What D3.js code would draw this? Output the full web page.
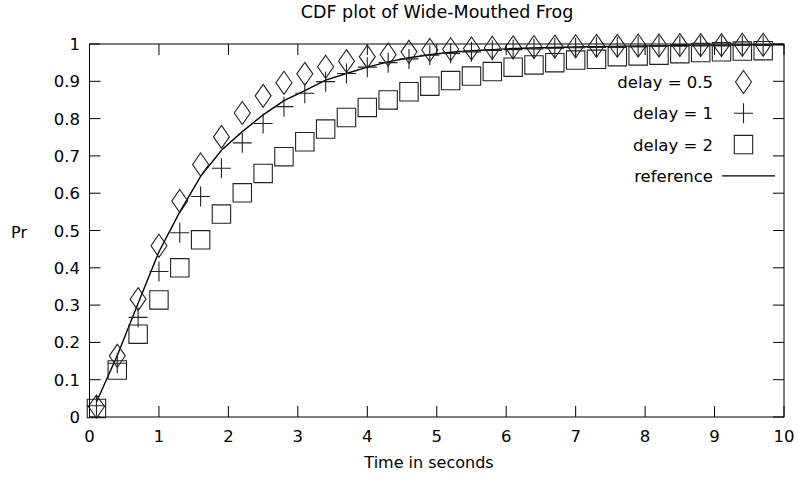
<!DOCTYPE html>
<html>
<head>
<meta charset="utf-8">
<script src="https://cdn.jsdelivr.net/npm/d3@7"></script>
<style>
  body { margin: 0; background: #fff; }
  text { font-family: "DejaVu Sans", sans-serif; fill: #000; }
</style>
</head>
<body>
<div id="chart"></div>
<script>
// sample times (seconds)
var times = [0.1, 0.4, 0.7, 1.0, 1.3, 1.6, 1.9, 2.2, 2.5, 2.8, 3.1, 3.4, 3.7, 4.0, 4.3, 4.6, 4.9,
             5.2, 5.5, 5.8, 6.1, 6.4, 6.7, 7.0, 7.3, 7.6, 7.9, 8.2, 8.5, 8.8, 9.1, 9.4, 9.7];

var delay05 = [0.028, 0.164, 0.316, 0.459, 0.579, 0.677, 0.751, 0.815, 0.861, 0.896, 0.920, 0.939, 0.954,
               0.966, 0.972, 0.979, 0.984, 0.986, 0.988, 0.990, 0.991, 0.992, 0.993, 0.994, 0.995, 0.995,
               0.996, 0.996, 0.997, 0.997, 0.997, 0.998, 0.998];
var delay1 = [0.030, 0.144, 0.267, 0.390, 0.494, 0.591, 0.667, 0.735, 0.787, 0.832, 0.868, 0.899, 0.921,
              0.938, 0.950, 0.960, 0.970, 0.975, 0.979, 0.983, 0.985, 0.987, 0.989, 0.990, 0.991, 0.992,
              0.993, 0.994, 0.994, 0.995, 0.995, 0.996, 0.996];
var delay2 = [0.023, 0.126, 0.222, 0.314, 0.400, 0.475, 0.544, 0.601, 0.653, 0.698, 0.738, 0.772, 0.803,
              0.830, 0.850, 0.872, 0.887, 0.902, 0.914, 0.926, 0.938, 0.944, 0.950, 0.957, 0.959, 0.966,
              0.968, 0.970, 0.974, 0.977, 0.979, 0.981, 0.982];

// reference curve
var refX = [0.1, 0.4, 0.7, 1.0, 1.3, 1.6, 1.9, 2.2, 2.5, 2.8, 3.1, 3.4, 3.7, 4.0, 4.3, 4.6, 4.9,
            5.2, 5.5, 5.8, 6.1, 6.5, 7.0, 8.0, 9.0, 10.0];
var refY = [0.040, 0.165, 0.305, 0.443, 0.550, 0.645, 0.715, 0.765, 0.810, 0.848, 0.875, 0.903, 0.921,
            0.938, 0.952, 0.963, 0.971, 0.978, 0.982, 0.985, 0.988, 0.990, 0.992, 0.995, 0.997, 0.998];

var xTicks = [0, 1, 2, 3, 4, 5, 6, 7, 8, 9, 10];
var yTicks = [0, 0.1, 0.2, 0.3, 0.4, 0.5, 0.6, 0.7, 0.8, 0.9, 1];
var legendLabels = ["delay = 0.5", "delay = 1", "delay = 2", "reference"];

var W = 798, H = 478;
var plotL = 89.5, plotR = 784, plotT = 44, plotB = 417;
var tickLen = 11;

var svg = d3.select("#chart").append("svg")
    .attr("width", W)
    .attr("height", H);

var x = d3.scaleLinear().domain([0, 10]).range([plotL, plotR]);
var y = d3.scaleLinear().domain([0, 1]).range([plotB, plotT]);

// ticks (inward, mirrored on all four sides)
var axes = svg.append("g").attr("stroke", "#000").attr("stroke-width", 1);
xTicks.forEach(function (t) {
    axes.append("line").attr("x1", x(t)).attr("x2", x(t)).attr("y1", plotB).attr("y2", plotB - tickLen);
    axes.append("line").attr("x1", x(t)).attr("x2", x(t)).attr("y1", plotT).attr("y2", plotT + tickLen);
});
yTicks.forEach(function (t) {
    axes.append("line").attr("x1", plotL).attr("x2", plotL + tickLen).attr("y1", y(t)).attr("y2", y(t));
    axes.append("line").attr("x1", plotR).attr("x2", plotR - tickLen).attr("y1", y(t)).attr("y2", y(t));
});
axes.append("rect")
    .attr("x", plotL).attr("y", plotT)
    .attr("width", plotR - plotL).attr("height", plotB - plotT)
    .attr("fill", "none");

// tick labels
svg.append("g").selectAll("text")
    .data(xTicks).enter().append("text")
    .attr("x", function (d) { return x(d); })
    .attr("y", 442)
    .attr("text-anchor", "middle")
    .style("font-size", "16.5px")
    .text(function (d) { return d; });

svg.append("g").selectAll("text")
    .data(yTicks).enter().append("text")
    .attr("x", 80)
    .attr("y", function (d) { return y(d) + 6; })
    .attr("text-anchor", "end")
    .style("font-size", "16.5px")
    .text(function (d) { return d; });

// titles
svg.append("text").attr("x", 437).attr("y", 18).attr("text-anchor", "middle")
    .style("font-size", "17.5px").text("CDF plot of Wide-Mouthed Frog");
svg.append("text").attr("x", 429).attr("y", 468).attr("text-anchor", "middle")
    .style("font-size", "16px").text("Time in seconds");
svg.append("text").attr("x", 19).attr("y", 238).attr("text-anchor", "middle")
    .style("font-size", "16px").text("Pr");

// marker shapes
function diamond(cx, cy) {
    return "M" + cx + "," + (cy - 11.5) + "L" + (cx + 8) + "," + cy + "L" + cx + "," + (cy + 11.5) +
        "L" + (cx - 8) + "," + cy + "Z";
}
function plus(cx, cy) {
    return "M" + (cx - 9.5) + "," + cy + "H" + (cx + 9.5) + "M" + cx + "," + (cy - 10) + "V" + (cy + 10);
}
function square(cx, cy) {
    return "M" + (cx - 9.2) + "," + (cy - 9.2) + "h18.4v18.4h-18.4Z";
}

var series = [
    { values: delay05, shape: diamond },
    { values: delay1, shape: plus },
    { values: delay2, shape: square }
];

// reference line
var line = d3.line()
    .x(function (d, i) { return x(refX[i]); })
    .y(function (d) { return y(d); });
svg.append("path")
    .datum(refY)
    .attr("d", line)
    .attr("fill", "none")
    .attr("stroke", "#000")
    .attr("stroke-width", 1.4);

// points
series.forEach(function (s) {
    svg.append("g").selectAll("path")
        .data(s.values).enter().append("path")
        .attr("d", function (d, i) { return s.shape(x(times[i]), y(d)); })
        .attr("fill", "none")
        .attr("stroke", "#222")
        .attr("stroke-width", 1.1);
});

// legend
var legend = svg.append("g");
legendLabels.forEach(function (lab, i) {
    var ly = 82 + i * 31.3;
    legend.append("text").attr("x", 713).attr("y", ly + 6)
        .attr("text-anchor", "end").style("font-size", "16.5px").text(lab);
    if (i < 3) {
        legend.append("path").attr("d", series[i].shape(743.5, ly))
            .attr("fill", "none").attr("stroke", "#222").attr("stroke-width", 1.1);
    } else {
        legend.append("line").attr("x1", 722).attr("x2", 775).attr("y1", ly).attr("y2", ly)
            .attr("stroke", "#000").attr("stroke-width", 1.4);
    }
});
</script>
</body>
</html>
